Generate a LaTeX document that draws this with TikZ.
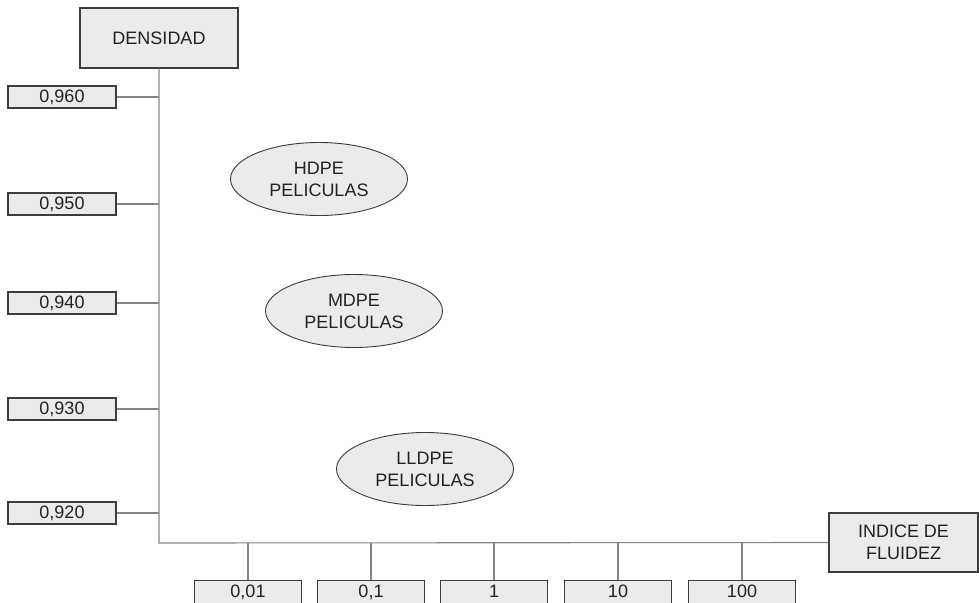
\documentclass[tikz,border=0pt]{standalone}
\usepackage{fontspec}
\setmainfont{Liberation Sans}
\usetikzlibrary{shapes.geometric}
\definecolor{boxfill}{HTML}{EBEBEB}
\definecolor{edge}{HTML}{3C3C3C}
\definecolor{wire}{HTML}{858585}
\definecolor{ink}{HTML}{222222}
\begin{document}
\begin{tikzpicture}[x=1pt,y=-1pt,
  every node/.style={font=\fontsize{18}{22}\selectfont, text=ink, inner sep=0pt, align=center},
  labelbox/.style={rectangle, draw=edge, fill=boxfill, line width=1.1pt},
  titlebox/.style={labelbox, minimum width=158pt, minimum height=60pt},
  ytick/.style={labelbox, minimum width=108pt, minimum height=22pt},
  xtick/.style={labelbox, minimum width=107pt, minimum height=30pt, text depth=0pt},
  family/.style={ellipse, draw=edge, fill=boxfill, line width=0.9pt, minimum width=177pt, minimum height=73pt},
  wire/.style={draw=wire, line width=1.1pt}
]
\useasboundingbox (0,0) rectangle (979,602);
\clip (0,0) rectangle (979,602);

% axis titles
\node[titlebox] (dens) at (159,38) {DENSIDAD};
\node[titlebox, minimum width=149pt, minimum height=59pt] (mfi) at (903.5,542.5) {INDICE DE\\FLUIDEZ};
\coordinate (origin) at (159,543);

% density ticks
\node[ytick] (d960) at (62,97)  {0,960};
\node[ytick] (d950) at (62,204) {0,950};
\node[ytick] (d940) at (62,303) {0,940};
\node[ytick] (d930) at (62,409) {0,930};
\node[ytick] (d920) at (62,513) {0,920};

% melt flow index ticks (boxes run past the lower edge)
\node[xtick, anchor=north] (f001) at (248,580) {\raisebox{8pt}{0,01}};
\node[xtick, anchor=north] (f01)  at (371,580) {\raisebox{8pt}{0,1}};
\node[xtick, anchor=north] (f1)   at (494,580) {\raisebox{8pt}{1}};
\node[xtick, anchor=north] (f10)  at (618,580) {\raisebox{8pt}{10}};
\node[xtick, anchor=north] (f100) at (742,580) {\raisebox{8pt}{100}};

% axes
\draw[wire] (dens.south) -- (origin) -- (mfi.west);
\foreach \n in {d960,d950,d940,d930,d920}
  \draw[wire] (\n.east) -- (\n.east -| origin);
\foreach \n in {f001,f01,f1,f10,f100}
  \draw[wire] (\n.north) -- (\n.north |- origin);

% polyethylene film grades
\node[family] (hdpe)  at (319,179) {HDPE\\PELICULAS};
\node[family] (mdpe)  at (354,311) {MDPE\\PELICULAS};
\node[family] (lldpe) at (425,469) {LLDPE\\PELICULAS};
\end{tikzpicture}
\end{document}
